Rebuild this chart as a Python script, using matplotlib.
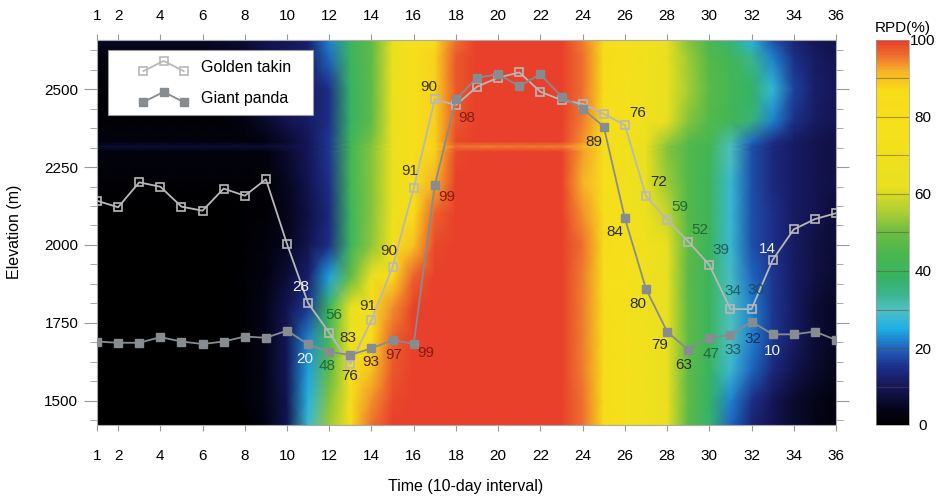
import numpy as np
import matplotlib
matplotlib.use('Agg')
import matplotlib.pyplot as plt
from matplotlib import font_manager
from matplotlib.colors import LinearSegmentedColormap
from matplotlib.legend_handler import HandlerLine2D
from matplotlib.lines import Line2D
from matplotlib.ticker import MultipleLocator

plt.rcParams['font.family'] = ['Liberation Sans', 'DejaVu Sans']
names = {f.name for f in font_manager.fontManager.ttflist}
narrow = 'Liberation Sans Narrow' if 'Liberation Sans Narrow' in names else 'Liberation Sans'

# time steps (10-day intervals)
time = np.arange(1, 37)
xticks = [1] + list(range(2, 37, 2))

# mean elevation of the two species per time step (m)
takin_elev = [2142, 2121, 2201, 2187, 2123, 2110, 2181, 2158, 2211, 2003,
              1813, 1718, 1618, 1759, 1930, 2182, 2468, 2449, 2508, 2537,
              2554, 2492, 2465, 2453, 2421, 2385, 2157, 2080, 2011, 1936,
              1794, 1794, 1952, 2050, 2083, 2102]
panda_elev = [1690, 1686, 1686, 1704, 1690, 1682, 1690, 1706, 1702, 1725,
              1681, 1656, 1647, 1668, 1695, 1682, 2193, 2468, 2537, 2548,
              2510, 2548, 2476, 2437, 2380, 2086, 1859, 1722, 1663, 1702,
              1711, 1754, 1713, 1713, 1722, 1695]

# RPD labels next to the points
takin_lab_t = [11, 12, 13, 14, 15, 16, 17, 18, 26, 27, 28, 29, 30, 31, 32, 33]
takin_lab = ['28', '56', '76', '91', '90', '91', '90', '98',
             '76', '72', '59', '52', '39', '34', '30', '14']
panda_lab_t = [11, 12, 13, 14, 15, 16, 17, 25, 26, 27, 28, 29, 30, 31, 32, 33]
panda_lab = ['20', '48', '83', '93', '97', '99', '99', '89',
             '84', '80', '79', '63', '47', '33', '32', '10']

# RPD (%) surface, rows = elevation, columns = time step
grid_elev = [1422, 1500, 1600, 1700, 1800, 1900, 2000, 2100, 2200, 2300,
             2316, 2332, 2400, 2500, 2600, 2658]
rpd_1422 = [0, 0, 0, 0, 0, 0, 0, 0, 3, 9, 28, 54, 80, 96, 100, 100, 100, 100,
            100, 100, 100, 100, 100, 96, 84, 76, 70, 64, 47, 37, 20, 13, 9, 6, 4, 2]
rpd_1500 = [0, 0, 0, 0, 0, 0, 0, 1, 4, 9, 26, 52, 78, 94, 99, 100, 100, 100,
            100, 100, 100, 100, 100, 96, 84, 76, 70, 64, 48, 38, 22, 15, 10, 6, 4, 2]
rpd_1600 = [0, 0, 0, 0, 0, 0, 0, 1, 4, 10, 24, 48, 72, 90, 98, 100, 100, 100,
            100, 100, 100, 100, 100, 95, 84, 76, 70, 64, 48, 39, 28, 20, 14, 9, 6, 4]
rpd_1700 = [0, 0, 0, 0, 0, 0, 0, 1, 4, 10, 22, 44, 66, 82, 97, 100, 100, 100,
            100, 100, 100, 100, 100, 95, 84, 76, 70, 64, 48, 40, 30, 22, 16, 11, 7, 5]
rpd_1800 = [0, 0, 0, 0, 0, 0, 0, 1, 4, 9, 16, 40, 62, 78, 94, 100, 100, 100,
            100, 100, 100, 100, 100, 95, 83, 76, 70, 63, 48, 40, 30, 22, 16, 11, 7, 5]
rpd_1900 = [0, 0, 0, 0, 0, 0, 0, 1, 3, 7, 12, 24, 48, 66, 82, 97, 100, 100,
            100, 100, 100, 100, 100, 95, 82, 75, 69, 62, 47, 40, 29, 20, 16, 11, 8, 6]
rpd_2000 = [0, 0, 0, 0, 0, 0, 0, 1, 2, 5, 9, 15, 40, 53, 74, 90, 99, 100,
            100, 100, 100, 100, 100, 96, 84, 77, 71, 62, 48, 40, 28, 18, 15, 11, 8, 7]
rpd_2100 = [0, 0, 0, 0, 0, 0, 0, 1, 1, 4, 8, 14, 40, 52, 68, 85, 97, 100,
            100, 100, 100, 100, 100, 94, 82, 74, 67, 58, 46, 41, 28, 18, 15, 11, 9, 7]
rpd_2200 = [1, 1, 1, 1, 1, 1, 1, 1, 1, 5, 9, 15, 42, 52, 66, 78, 92, 100,
            100, 100, 100, 100, 100, 92, 78, 72, 64, 54, 46, 41, 28, 18, 14, 11, 9, 8]
rpd_2300 = [2, 2, 2, 2, 2, 2, 2, 2, 2, 6, 10, 16, 42, 52, 68, 78, 88, 99,
            100, 100, 100, 100, 100, 93, 80, 72, 64, 52, 46, 42, 30, 18, 14, 11, 9, 8]
rpd_2316 = [6, 7, 7, 7, 7, 7, 7, 7, 7, 8, 10, 16, 42, 52, 68, 78, 88, 96,
            95, 95, 95, 95, 95, 92, 80, 72, 64, 52, 46, 42, 30, 18, 14, 11, 9, 8]
rpd_2332 = [2, 2, 2, 2, 2, 2, 2, 2, 3, 6, 10, 16, 41, 51, 67, 78, 88, 99,
            100, 100, 100, 100, 100, 94, 81, 73, 66, 54, 47, 43, 32, 20, 15, 11, 9, 8]
rpd_2400 = [1, 1, 1, 1, 1, 1, 1, 3, 6, 9, 11, 15, 38, 48, 66, 78, 88, 98,
            100, 100, 100, 100, 100, 95, 82, 75, 70, 63, 52, 46, 42, 36, 22, 15, 11, 9]
rpd_2500 = [1, 1, 1, 1, 1, 1, 2, 4, 7, 9, 11, 15, 38, 48, 68, 78, 88, 98,
            100, 100, 100, 100, 100, 96, 83, 76, 70, 64, 55, 47, 43, 38, 27, 17, 12, 10]
rpd_2600 = [2, 2, 2, 2, 2, 2, 3, 5, 8, 10, 12, 20, 40, 48, 66, 78, 88, 98,
            100, 100, 100, 100, 100, 96, 84, 77, 71, 64, 54, 46, 42, 34, 22, 15, 11, 9]
rpd_2658 = [5, 5, 5, 5, 5, 5, 6, 7, 9, 10, 12, 22, 40, 48, 64, 76, 86, 96,
            100, 100, 100, 100, 100, 95, 84, 77, 71, 64, 52, 44, 36, 26, 18, 13, 10, 8]
rpd = np.array([rpd_1422, rpd_1500, rpd_1600, rpd_1700, rpd_1800, rpd_1900,
                rpd_2000, rpd_2100, rpd_2200, rpd_2300, rpd_2316, rpd_2332,
                rpd_2400, rpd_2500, rpd_2600, rpd_2658])

# colours
TAKIN = '#b8b8b8'
PANDA = '#868c90'
WHITE, GREEN, TEAL, DTEAL, NAVY = '#f2f2f2', '#1f6b35', '#1d5f5c', '#1c4a5e', '#1a2a66'
OLIVE, BROWN, DRED, DARK = '#3b3410', '#4a2412', '#8a1a14', '#2b2b22'

takin_lab_col = [WHITE, GREEN, DARK, OLIVE, OLIVE, OLIVE, OLIVE, DRED,
                 DARK, DARK, GREEN, GREEN, TEAL, TEAL, DTEAL, WHITE]
panda_lab_col = [WHITE, GREEN, OLIVE, BROWN, DRED, DRED, DRED, DARK,
                 DARK, DARK, DARK, DARK, GREEN, TEAL, NAVY, WHITE]
# label offsets in pixels (dx, dy)
takin_off = [(-7, 16), (5, 18), (-1, -12), (-4, 14), (-4, 16), (-4, 17), (-6, 12), (11, -13),
             (13, 12), (13, 14), (13, 13), (12, 12), (12, 15), (3, 18), (4, 19), (-5, 11)]
panda_off = [(-3, -15), (-2, -14), (-2, 17), (-1, -14), (1, -15), (12, -9), (12, -12), (-10, -15),
             (-10, -14), (-8, -15), (-7, -13), (-4, -15), (2, -16), (3, -15), (1, -17), (0, -17)]

cmap = LinearSegmentedColormap.from_list('rpd', [
    (0.00, '#000000'), (0.04, '#05051a'), (0.10, '#16175a'), (0.15, '#1d2f8a'),
    (0.20, '#1f66c0'), (0.25, '#1fb0e6'), (0.30, '#4fc0c0'), (0.34, '#3cb48c'),
    (0.38, '#36b264'), (0.45, '#4cb84c'), (0.50, '#6bbd45'), (0.56, '#b4d030'),
    (0.62, '#e8e020'), (0.75, '#f5e01c'), (0.87, '#f8dc18'), (0.92, '#f6b428'),
    (0.96, '#ee7030'), (1.00, '#e8402a')])


class PeakHandler(HandlerLine2D):
    # legend line drawn as a small peak like the original
    def create_artists(self, legend, orig_handle, xdescent, ydescent,
                       width, height, fontsize, trans):
        arts = super().create_artists(legend, orig_handle, xdescent, ydescent,
                                      width, height, fontsize, trans)
        for a in arts:
            if len(a.get_xdata()) == 3:
                y0 = (height - ydescent) / 2
                a.set_xdata([-xdescent + 0.36 * width, -xdescent + 0.64 * width,
                             -xdescent + 0.92 * width])
                a.set_ydata([y0 - 0.45 * height, y0 + 0.45 * height, y0 - 0.45 * height])
        return arts


fig = plt.figure(figsize=(9.45, 4.96), dpi=100)
ax = fig.add_axes([97 / 945, 1 - 425 / 496, (836 - 97) / 945, 385 / 496])
cax = fig.add_axes([876 / 945, 1 - 425 / 496, 33 / 945, 385 / 496])

T, E = np.meshgrid(time, grid_elev)
mesh = ax.pcolormesh(T, E, rpd, cmap=cmap, vmin=0, vmax=100, shading='gouraud', zorder=1)

h1, = ax.plot(time, takin_elev, color=TAKIN, lw=1.3, marker='s', ms=6, mfc='none',
              mec=TAKIN, mew=1.2, label='Golden takin', zorder=3)
h2, = ax.plot(time, panda_elev, color=PANDA, lw=1.3, marker='s', ms=5.5, mfc=PANDA,
              mec=PANDA, label='Giant panda', zorder=4)

for t, s, c, off in zip(takin_lab_t, takin_lab, takin_lab_col, takin_off):
    ax.annotate(s, (t, takin_elev[t - 1]), xytext=off, textcoords='offset pixels',
                ha='center', va='center', color=c, fontsize=11, zorder=5)
for t, s, c, off in zip(panda_lab_t, panda_lab, panda_lab_col, panda_off):
    ax.annotate(s, (t, panda_elev[t - 1]), xytext=off, textcoords='offset pixels',
                ha='center', va='center', color=c, fontsize=11, zorder=5)

leg = ax.legend(handles=[h1, h2], loc='upper left', mode='expand',
                bbox_to_anchor=(0.0149, 0.5, 0.2774, 0.474),
                handler_map={Line2D: PeakHandler(numpoints=3)}, numpoints=3,
                handlelength=4.5, handletextpad=0.7, labelspacing=1.0, borderpad=0.6,
                fontsize=11.5, frameon=True, fancybox=False, framealpha=1,
                edgecolor='#9a9a9a', borderaxespad=0)
leg.get_frame().set_linewidth(0.8)
leg.set_zorder(6)

ax.set_xlim(1, 36)
ax.set_ylim(1422, 2658)
ax.set_xticks(xticks)
ax.set_yticks([1500, 1750, 2000, 2250, 2500])
ax.yaxis.set_minor_locator(MultipleLocator(62.5))
ax.tick_params(axis='x', direction='out', length=4.5, color='#999999', pad=13, labelsize=11)
ax.tick_params(axis='y', which='major', direction='out', length=9.5, color='#999999',
               right=True, pad=4, labelsize=11)
ax.tick_params(axis='y', which='minor', direction='out', length=5, color='#999999', right=True)
for lbl in ax.get_xticklabels():
    lbl.set_family(narrow)
for sp in ax.spines.values():
    sp.set_color('#aaaaaa')
    sp.set_linewidth(0.8)

top = ax.secondary_xaxis('top')
top.set_xticks(xticks)
top.tick_params(direction='out', length=4.5, color='#999999', pad=8, labelsize=11)
top.spines['top'].set_color('#aaaaaa')
for lbl in top.get_xticklabels():
    lbl.set_family(narrow)

fig.text(15 / 945, 1 - 232 / 496, 'Elevation (m)', rotation=90, ha='center', va='center', fontsize=11.5)
fig.text(466 / 945, 1 - 487 / 496, 'Time (10-day interval)', ha='center', va='center', fontsize=11.5)

cb = fig.colorbar(mesh, cax=cax)
cb.set_ticks([0, 20, 40, 60, 80, 100])
cb.ax.tick_params(length=0, pad=10, labelsize=11)
for lbl in cb.ax.get_yticklabels():
    lbl.set_ha('center')
cb.outline.set_linewidth(0.5)
cb.outline.set_edgecolor('#999999')
for v in range(10, 100, 10):
    cb.ax.axhline(v, color='#5a5028', lw=0.8, alpha=0.5)
fig.text(903 / 945, 1 - 28 / 496, 'RPD(%)', ha='center', va='center', fontsize=11, family=narrow)

fig.savefig('out.png', dpi=100)
